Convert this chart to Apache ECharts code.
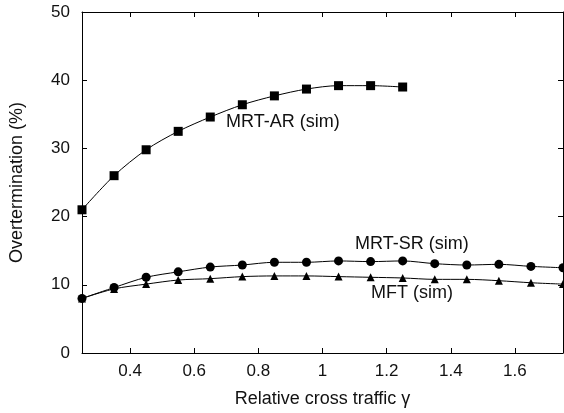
<!DOCTYPE html>
<html>
<head>
<meta charset="utf-8">
<script src="https://cdn.jsdelivr.net/npm/echarts@6/dist/echarts.min.js"></script>
<style>
  html, body { margin: 0; padding: 0; background: #fff; }
  #chart { width: 564px; height: 413px; }
</style>
</head>
<body>
<div id="chart"></div>
<script>
// x values (relative cross traffic)
let xs = [0.25, 0.35, 0.45, 0.55, 0.65, 0.75, 0.85, 0.95, 1.05, 1.15, 1.25, 1.35, 1.45, 1.55, 1.65, 1.75];

let mrtAR = [21.0, 26.0, 29.8, 32.5, 34.6, 36.4, 37.7, 38.7, 39.2, 39.2, 39.0];
let mrtSR = [8.0, 9.6, 11.1, 11.9, 12.6, 12.9, 13.3, 13.3, 13.5, 13.4, 13.5, 13.1, 12.9, 13.0, 12.7, 12.5];
let mft   = [8.0, 9.4, 10.1, 10.7, 10.9, 11.2, 11.3, 11.3, 11.2, 11.1, 11.0, 10.8, 10.8, 10.6, 10.3, 10.1];

let xTicks = [0.4, 0.6, 0.8, 1.0, 1.2, 1.4, 1.6];
let yTicks = [0, 10, 20, 30, 40, 50];

function pairs(vals) {
    return vals.map((v, i) => [xs[i], v]);
}

const font = '"Liberation Sans", Arial, sans-serif';

let xTickStyle = {
    show: true, inside: true, length: 5,
    lineStyle: { color: '#000', width: 1 },
    customValues: xTicks
};
let yTickStyle = {
    show: true, inside: true, length: 5,
    lineStyle: { color: '#000', width: 1 },
    customValues: yTicks
};

let options = {
    animation: false,
    backgroundColor: '#fff',
    grid: { left: 82, right: 1, top: 12, bottom: 60 },
    xAxis: [
        {
            type: 'value', min: 0.25, max: 1.75,
            axisLine: { show: true, onZero: false, lineStyle: { color: '#000', width: 1 } },
            axisTick: xTickStyle,
            axisLabel: {
                color: '#111', fontFamily: font, fontSize: 17, margin: 10,
                customValues: xTicks,
                formatter: v => String(Math.round(v * 10) / 10)
            },
            splitLine: { show: false },
            name: 'Relative cross traffic γ',
            nameLocation: 'middle', nameGap: 37,
            nameTextStyle: { color: '#111', fontFamily: font, fontSize: 18 }
        },
        {
            type: 'value', min: 0.25, max: 1.75, position: 'top',
            axisLine: { show: true, onZero: false, lineStyle: { color: '#000', width: 1 } },
            axisTick: xTickStyle,
            axisLabel: { show: false },
            splitLine: { show: false }
        }
    ],
    yAxis: [
        {
            type: 'value', min: 0, max: 50, interval: 10,
            axisLine: { show: true, onZero: false, lineStyle: { color: '#000', width: 1 } },
            axisTick: yTickStyle,
            axisLabel: { color: '#111', fontFamily: font, fontSize: 17, margin: 12 },
            splitLine: { show: false },
            name: 'Overtermination (%)',
            nameLocation: 'middle', nameGap: 56,
            nameTextStyle: { color: '#111', fontFamily: font, fontSize: 18 }
        },
        {
            type: 'value', min: 0, max: 50, interval: 10, position: 'right',
            axisLine: { show: true, onZero: false, lineStyle: { color: '#000', width: 1 } },
            axisTick: yTickStyle,
            axisLabel: { show: false },
            splitLine: { show: false }
        }
    ],
    series: [
        {
            name: 'MRT-AR (sim)', type: 'line', smooth: 0.3,
            data: pairs(mrtAR),
            symbol: 'rect', symbolSize: 9,
            itemStyle: { color: '#000' },
            lineStyle: { color: '#000', width: 1 }
        },
        {
            name: 'MRT-SR (sim)', type: 'line', smooth: 0.3,
            data: pairs(mrtSR),
            symbol: 'circle', symbolSize: 9,
            itemStyle: { color: '#000' },
            lineStyle: { color: '#000', width: 1 }
        },
        {
            name: 'MFT (sim)', type: 'line', smooth: 0.3,
            data: pairs(mft),
            symbol: 'triangle', symbolSize: 8,
            itemStyle: { color: '#000' },
            lineStyle: { color: '#000', width: 1 }
        }
    ],
    graphic: [
        { type: 'text', left: 226, top: 113, style: { text: 'MRT-AR (sim)', fill: '#111', font: '18px ' + font } },
        { type: 'text', left: 355, top: 235, style: { text: 'MRT-SR (sim)', fill: '#111', font: '18px ' + font } },
        { type: 'text', left: 371, top: 284, style: { text: 'MFT (sim)', fill: '#111', font: '18px ' + font } }
    ]
};

let chart = echarts.init(document.getElementById('chart'));
chart.setOption(options);
</script>
</body>
</html>
